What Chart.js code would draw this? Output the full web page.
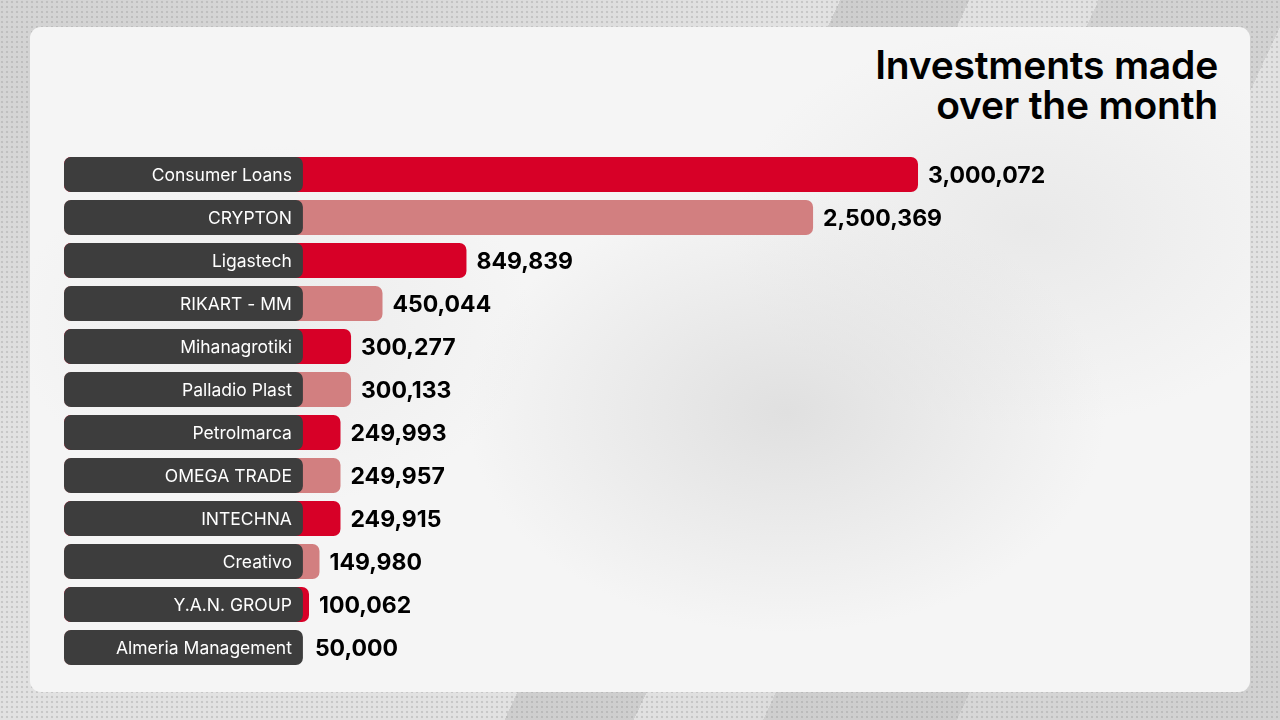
<!DOCTYPE html>
<html>
<head>
<meta charset="utf-8">
<title>Investments made over the month</title>
<script src="https://cdn.jsdelivr.net/npm/chart.js@4.4.1/dist/chart.umd.min.js"></script>
<style>
    html, body { margin: 0; padding: 0; }
    body {
        width: 1280px; height: 720px; overflow: hidden; position: relative;
        font-family: Inter, "Noto Sans", sans-serif;
        background:
            radial-gradient(circle at 2px 2px, rgba(150,150,150,0.35) 1px, transparent 1.6px) 0 0 / 5px 5px,
            linear-gradient(115deg, transparent 0 52%, rgba(170,170,170,0.35) 52% 60%, transparent 60% 68%, rgba(175,175,175,0.3) 68% 80%, transparent 80%),
            radial-gradient(ellipse at 8% 8%, #d2d2d2 0, transparent 40%),
            radial-gradient(ellipse at 95% 95%, #d0d0d0 0, transparent 35%),
            #e2e2e2;
    }
    .card {
        position: absolute; left: 30px; top: 27px; width: 1220px; height: 665px;
        border-radius: 11px;
        background:
            radial-gradient(ellipse 320px 220px at 62% 58%, rgba(215,215,215,0.7), transparent),
            radial-gradient(ellipse 300px 200px at 82% 30%, rgba(225,225,225,0.6), transparent),
            radial-gradient(ellipse 260px 180px at 20% 45%, rgba(230,230,230,0.6), transparent),
            #f5f5f5;
    }
    .title {
        position: absolute; right: 62px; top: 45px; margin: 0;
        text-align: right; font-size: 39px; line-height: 40px; font-weight: 600;
        color: #000; letter-spacing: -0.2px;
    }
    #chartWrap { position: absolute; left: 0; top: 0; width: 1280px; height: 720px; }
</style>
</head>
<body>
<div class="card"></div>
<h1 class="title">Investments made<br>over the month</h1>
<div id="chartWrap"><canvas id="barChart"></canvas></div>

<script>
// --- data
const companies = ['Consumer Loans', 'CRYPTON', 'Ligastech', 'RIKART - MM', 'Mihanagrotiki', 'Palladio Plast',
                   'Petrolmarca', 'OMEGA TRADE', 'INTECHNA', 'Creativo', 'Y.A.N. GROUP', 'Almeria Management'];
const invested = [3000072, 2500369, 849839, 450044, 300277, 300133, 249993, 249957, 249915, 149980, 100062, 50000];

// axis range: the label plate sits in the negative part of the axis
const X_MIN = -1066667;
const X_MAX = 4433333;
const PLATE_END = 71000;

const RED = '#d70027';
const PINK = '#d27f80';
const PLATE = '#3d3d3d';

const fmt = new Intl.NumberFormat('en-US');

// Draw the white names on the plates and the value after each bar
const labelPlugin = {
    id: 'barLabels',
    afterDatasetsDraw(chart) {
        const ctx = chart.ctx;
        const xs = chart.scales.x;
        const plateMeta = chart.getDatasetMeta(0);
        const valueMeta = chart.getDatasetMeta(1);
        const plateX = xs.getPixelForValue(PLATE_END);
        ctx.save();
        ctx.textBaseline = 'middle';
        plateMeta.data.forEach((el, i) => {
            ctx.fillStyle = '#ffffff';
            ctx.font = '400 17.5px Inter, "Noto Sans", sans-serif';
            ctx.textAlign = 'right';
            ctx.fillText(companies[i], plateX - 11, el.y + 1);
        });
        valueMeta.data.forEach((el, i) => {
            const endX = Math.max(el.x, plateX + 2);
            ctx.fillStyle = '#000000';
            ctx.font = '700 23px Inter, "Noto Sans", sans-serif';
            ctx.textAlign = 'left';
            ctx.fillText(fmt.format(invested[i]), endX + 10, el.y + 1.5);
        });
        ctx.restore();
    }
};

new Chart(document.getElementById('barChart'), {
    type: 'bar',
    data: {
        labels: companies,
        datasets: [
            {
                // label plates (index 0 -> drawn on top)
                data: companies.map(() => [X_MIN, PLATE_END]),
                backgroundColor: PLATE,
                borderRadius: 7,
                borderSkipped: false,
                grouped: false,
                barPercentage: 0.815,
                categoryPercentage: 1
            },
            {
                data: invested,
                base: X_MIN,
                backgroundColor: invested.map((v, i) => i % 2 === 0 ? RED : PINK),
                borderRadius: 7,
                borderSkipped: false,
                grouped: false,
                barPercentage: 0.815,
                categoryPercentage: 1
            }
        ]
    },
    options: {
        indexAxis: 'y',
        responsive: true,
        maintainAspectRatio: false,
        animation: false,
        layout: { padding: { left: 64, right: 61, top: 153, bottom: 51 } },
        plugins: { legend: { display: false }, tooltip: { enabled: false } },
        scales: {
            x: { display: false, min: X_MIN, max: X_MAX },
            y: { display: false, grid: { display: false } }
        }
    },
    plugins: [labelPlugin]
});
</script>
</body>
</html>
